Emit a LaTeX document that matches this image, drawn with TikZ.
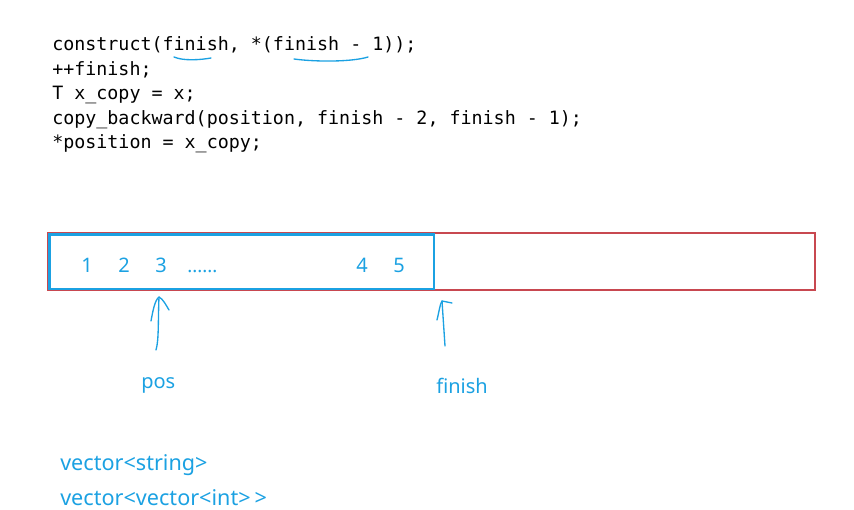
\documentclass[tikz,border=0pt]{standalone}
\usepackage{fontspec}
\setmainfont{Noto Sans}
\setmonofont{DejaVu Sans Mono}
\usetikzlibrary{positioning}
\definecolor{PenBlue}{RGB}{27,161,226}
\definecolor{BoxRed}{RGB}{200,72,80}
\tikzset{
	codeline/.style={anchor=base west, inner sep=0pt, font=\fontsize{13.75}{16}\ttfamily},
	bluetext/.style={anchor=base west, inner sep=0pt, text=PenBlue, font=\fontsize{15}{18}\selectfont},
	pen/.style={PenBlue, line width=1pt, line cap=round, line join=round},
	outerbox/.style={BoxRed, line width=1.6pt},
	innerbox/.style={PenBlue, line width=1.6pt},
}

\begin{document}
\begin{tikzpicture}[x=0.75pt, y=-0.75pt]
	\useasboundingbox (0,0) rectangle (854,510);
	
	% Code lines
	\node[codeline] (c1) at (52,51) {construct(finish, *(finish - 1));};
	\node[codeline] (c2) at (52,75.5) {++finish;};
	\node[codeline] (c3) at (52,100) {T x\_copy = x;};
	\node[codeline] (c4) at (52,124.5) {copy\_backward(position, finish - 2, finish - 1);};
	\node[codeline] (c5) at (52,149) {*position = x\_copy;};
	
	% Hand underlines
	\draw[pen] (174,57) .. controls (183,61) and (200,60) .. (211,58);
	\draw[pen] (294,59) .. controls (316,62) and (352,62) .. (368,57);
	
	% Storage (red) and used part (blue)
	\draw[outerbox] (48,233) rectangle (815,290);
	\draw[innerbox] (49.5,234.5) rectangle (434,289);
	
	% Elements
	\node[bluetext] (e1) at (81,272) {1};
	\node[bluetext] (e2) at (118,272) {2};
	\node[bluetext] (e3) at (155,272) {3};
	\node[bluetext] (dots) at (187,272) {\fontsize{14}{16}\selectfont ......};
	\node[bluetext] (e4) at (356,272) {4};
	\node[bluetext] (e5) at (393,272) {5};
	
	% Labels
	\node[bluetext] (pos) at (141,388) {pos};
	\node[bluetext] (finish) at (436,393) {finish};
	\node[bluetext, font=\fontsize{16.2}{18}\selectfont] (vs) at (60,470) {vector<string>};
	\node[bluetext, font=\fontsize{16.2}{18}\selectfont] (vvi) at (60,505) {vector<vector<int>\hspace{0.18em}>};
	
	% Hand-drawn arrows
	\coordinate (posTail) at (156,350);
	\coordinate (posTip) at (159,297);
	\coordinate (finTail) at (445,346);
	\coordinate (finTip) at (442,301);
	\draw[pen] (posTail) .. controls (159,340) and (158,320) .. (posTip);
	\draw[pen] (151,321) .. controls (153,310) and (155,300) .. (posTip) .. controls (163,299) and (166,305) .. (169,310);
	\draw[pen] (finTail) -- (finTip);
	\draw[pen] (437,320) .. controls (439,312) and (440,304) .. (finTip) -- (452,303);
\end{tikzpicture}
\end{document}
